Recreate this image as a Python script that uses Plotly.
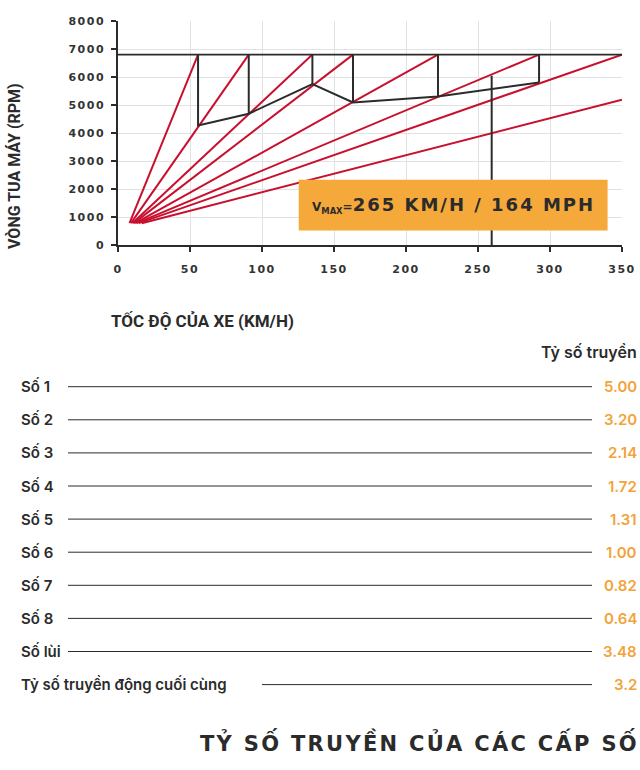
import plotly.graph_objects as go

# ---------------- data ----------------
x_ticks = [0, 50, 100, 150, 200, 250, 300, 350]
y_ticks = [0, 1000, 2000, 3000, 4000, 5000, 6000, 7000, 8000]

gear_start_speed = [8, 9, 10, 11, 12, 13, 14.5, 16.5]
gear_start_rpm = [780, 780, 780, 780, 780, 780, 780, 780]
gear_end_speed = [55.6, 90.8, 135, 163.2, 222.2, 292.4, 350, 350]
gear_end_rpm = [6800, 6800, 6800, 6800, 6800, 6800, 6800, 5190]

shift_speed = [55.6, 90.8, 135, 163.2, 222.2, 292.4]
shift_low_rpm = [4270, 4690, 5750, 5093, 5307, 5807]
redline_rpm = 6800
vmax_speed = 259.5
vmax_rpm = 6046

table_labels = ["Số 1", "Số 2", "Số 3", "Số 4", "Số 5", "Số 6", "Số 7", "Số 8",
                "Số lùi", "Tỷ số truyền động cuối cùng"]
table_values = ["5.00", "3.20", "2.14", "1.72", "1.31", "1.00", "0.82", "0.64",
                "3.48", "3.2"]

# ---------------- styling ----------------
RED = "#C8102E"
DARK = "#2b2b2b"
ORANGE_TXT = "#F2A33A"
ORANGE_BOX = "#F5A93A"
GRID = "#e2e2e2"

L, T, W, H = 118, 21, 504, 224


def px(x):
    return (x - L) / W


def py(y):
    return (T + H - y) / H


def wide(s, sp=1):
    return f'<span style="letter-spacing:{sp}px">{s}</span>'


fig = go.Figure()

# gear lines
for i in range(len(gear_start_speed)):
    fig.add_trace(go.Scatter(
        x=[gear_start_speed[i], gear_end_speed[i]],
        y=[gear_start_rpm[i], gear_end_rpm[i]],
        mode="lines", line=dict(color=RED, width=2), hoverinfo="skip",
        showlegend=False))

# redline
fig.add_trace(go.Scatter(x=[0, 350], y=[redline_rpm, redline_rpm], mode="lines",
                         line=dict(color=DARK, width=1.6), showlegend=False))

# shift path
sx, sy = [shift_speed[0]], [redline_rpm]
for s, r in zip(shift_speed, shift_low_rpm):
    sx.append(s)
    sy.append(r)
fig.add_trace(go.Scatter(x=sx, y=sy, mode="lines",
                         line=dict(color=DARK, width=2), showlegend=False))
vx, vy = [], []
for s, r in zip(shift_speed[1:], shift_low_rpm[1:]):
    vx += [s, s, None]
    vy += [r, redline_rpm, None]
vx += [vmax_speed, vmax_speed]
vy += [0, vmax_rpm]
fig.add_trace(go.Scatter(x=vx, y=vy, mode="lines",
                         line=dict(color=DARK, width=2), showlegend=False))

# orange box
fig.add_shape(type="rect", xref="x", yref="y", x0=125.5, x1=340, y0=520, y1=2330,
              fillcolor=ORANGE_BOX, line=dict(width=0), layer="above")
fig.add_annotation(
    xref="x", yref="y", x=232.75, y=1425, showarrow=False,
    text=('<span style="font-size:12px">V<sub>MAX</sub>=</span>'
          + wide("265 KM/H / 164 MPH", 2)),
    font=dict(family="DejaVu Sans", size=18, color=DARK, weight="bold"))

tickfont = dict(family="DejaVu Sans", size=11, color="#333333", weight="bold")
fig.update_xaxes(range=[0, 350], tickvals=x_ticks,
                 ticktext=[wide(str(v), 1.5) for v in x_ticks],
                 showgrid=True, gridcolor=GRID, gridwidth=1,
                 showline=True, linecolor=DARK, linewidth=1.5,
                 ticks="outside", ticklen=5, tickcolor=DARK, tickwidth=1.5,
                 tickfont=tickfont, ticklabelstandoff=8, zeroline=False,
                 automargin=False)
fig.update_yaxes(range=[0, 8000], tickvals=y_ticks,
                 ticktext=[wide(str(v), 1.5) for v in y_ticks],
                 showgrid=True, gridcolor=GRID, gridwidth=1,
                 showline=True, linecolor=DARK, linewidth=1.5,
                 ticks="outside", ticklen=5, tickcolor=DARK, tickwidth=1.5,
                 tickfont=tickfont, ticklabelstandoff=4, zeroline=False,
                 automargin=False)

annotations = []
# axis titles
annotations.append(dict(xref="paper", yref="paper", x=px(14), y=py(166),
                        text="VÒNG TUA MÁY (RPM)", textangle=-90, showarrow=False,
                        xanchor="center", yanchor="middle",
                        font=dict(family="Roboto", size=16, color=DARK, weight="bold")))
annotations.append(dict(xref="paper", yref="paper", x=px(109), y=py(321),
                        text="TỐC ĐỘ CỦA XE (KM/H)", showarrow=False,
                        xanchor="left", yanchor="middle",
                        font=dict(family="Roboto", size=17, color=DARK, weight="bold")))
# table header
annotations.append(dict(xref="paper", yref="paper", x=px(639), y=py(352),
                        text="Tỷ số truyền", showarrow=False,
                        xanchor="right", yanchor="middle",
                        font=dict(family="Inter", size=16, color=DARK, weight=600)))

shapes = []
row0, step = 386.7, 33.1
for i, (lab, val) in enumerate(zip(table_labels, table_values)):
    yc = row0 + step * i
    annotations.append(dict(xref="paper", yref="paper", x=px(19), y=py(yc),
                            text=lab, showarrow=False, xanchor="left", yanchor="middle",
                            font=dict(family="Inter", size=15, color=DARK, weight=600)))
    annotations.append(dict(xref="paper", yref="paper", x=px(639), y=py(yc),
                            text=val, showarrow=False, xanchor="right", yanchor="middle",
                            font=dict(family="Inter", size=15, color=ORANGE_TXT, weight=600)))
    x0 = 68 if i < len(table_labels) - 1 else 262
    shapes.append(dict(type="line", xref="paper", yref="paper",
                       x0=px(x0), x1=px(592), y0=py(yc), y1=py(yc),
                       line=dict(color=DARK, width=1)))

# bottom title
annotations.append(dict(xref="paper", yref="paper", x=px(641), y=py(742),
                        text=wide("TỶ SỐ TRUYỀN CỦA CÁC CẤP SỐ", 2.3), showarrow=False,
                        xanchor="right", yanchor="middle",
                        font=dict(family="DejaVu Sans", size=21, color=DARK, weight="bold")))

for a in annotations:
    fig.add_annotation(**a)
for s in shapes:
    fig.add_shape(**s)

fig.update_layout(width=640, height=770, autosize=False,
                  margin=dict(l=L, r=640 - L - W, t=T, b=770 - T - H),
                  paper_bgcolor="white", plot_bgcolor="white",
                  showlegend=False)

fig.write_html("out.html")
